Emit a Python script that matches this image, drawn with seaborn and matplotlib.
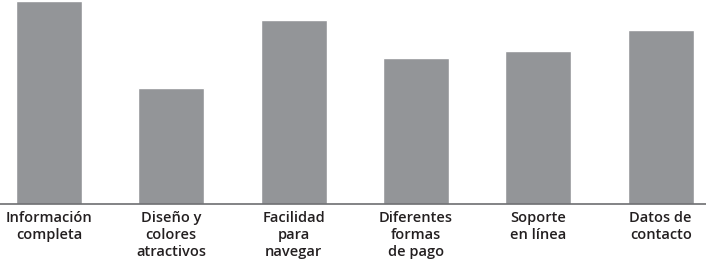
import matplotlib
matplotlib.use('Agg')
import matplotlib.pyplot as plt
import seaborn as sns
import pandas as pd

# Datos (escala relativa, barra mayor = 100)
categorias = ['Información\ncompleta', 'Diseño y\ncolores\natractivos', 'Facilidad\npara\nnavegar',
              'Diferentes\nformas\nde pago', 'Soporte\nen línea', 'Datos de\ncontacto']
valores = [100, 57, 90.6, 72, 75.4, 85.7]

df = pd.DataFrame({'categoria': categorias, 'valor': valores})

sns.set_style('white')
plt.rcParams['font.family'] = ['Open Sans', 'DejaVu Sans']

fig = plt.figure(figsize=(7.06, 2.61), dpi=100)
ax = fig.add_axes([0, 57 / 261, 1, 204 / 261])
sns.barplot(data=df, x='categoria', y='valor', color='#939598', width=0.54,
            saturation=1, ax=ax)

ax.set_xlim(-0.40, 5.37)
ax.set_ylim(0, 100.5)
ax.set_xlabel('')
ax.set_ylabel('')
ax.set_yticks([])
for s in ['top', 'left', 'right']:
    ax.spines[s].set_visible(False)
ax.spines['bottom'].set_color('#6d6e71')
ax.spines['bottom'].set_linewidth(1.2)
ax.tick_params(axis='x', length=0, pad=5)
for lbl in ax.get_xticklabels():
    lbl.set_fontsize(10.5)
    lbl.set_fontweight('semibold')
    lbl.set_color('#231f20')
    lbl.set_linespacing(1.28)
    lbl.set_horizontalalignment('center')

fig.savefig('out.png', dpi=100)
plt.close()
